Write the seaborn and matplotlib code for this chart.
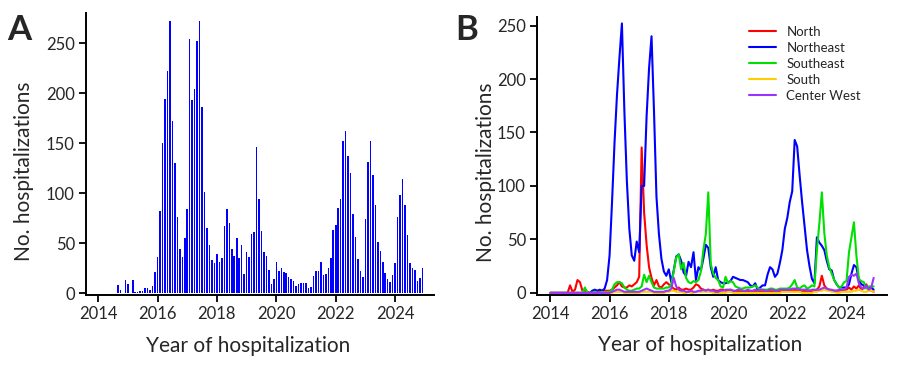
import numpy as np
import pandas as pd
import seaborn as sns
import matplotlib.pyplot as plt

# monthly series, Jan 2014 - Dec 2024
years = list(range(2014, 2025))
year_ticks = [2014, 2016, 2018, 2020, 2022, 2024]

# panel A: total hospitalizations per month
total = [
    0, 0, 0, 0, 0, 0, 0, 0, 8, 3, 0, 13,
    9, 0, 13, 1, 1, 2, 2, 5, 5, 3, 7, 21,
    36, 82, 150, 194, 222, 272, 172, 130, 76, 44, 36, 55,
    84, 254, 193, 204, 252, 272, 186, 101, 65, 48, 33, 30,
    39, 31, 35, 67, 84, 70, 44, 37, 55, 35, 48, 19,
    41, 36, 59, 61, 146, 94, 62, 41, 37, 23, 9, 14,
    31, 22, 25, 21, 20, 16, 14, 12, 7, 9, 10, 10,
    10, 5, 6, 17, 22, 22, 31, 18, 19, 25, 35, 63,
    68, 85, 94, 152, 162, 137, 120, 79, 56, 34, 22, 16,
    74, 131, 152, 118, 88, 51, 42, 31, 20, 14, 11, 18,
    30, 76, 98, 114, 88, 58, 30, 25, 23, 12, 15, 25,
]

# panel B: per region
north = [
    0, 0, 0, 0, 0, 0, 0, 0, 7, 1, 3, 12,
    10, 2, 2, 1, 0, 1, 0, 1, 1, 2, 2, 2,
    2, 3, 5, 7, 10, 6, 5, 5, 7, 6, 8, 10,
    15, 136, 75, 45, 24, 14, 7, 12, 6, 5, 8, 10,
    8, 6, 4, 3, 5, 3, 3, 4, 3, 3, 5, 8,
    7, 4, 3, 2, 3, 2, 3, 2, 2, 3, 3, 2,
    2, 3, 2, 1, 2, 1, 2, 1, 2, 1, 1, 2,
    1, 2, 1, 2, 1, 2, 1, 1, 2, 1, 2, 2,
    2, 3, 2, 3, 2, 2, 1, 2, 1, 2, 1, 2,
    3, 6, 16, 7, 4, 3, 2, 2, 2, 2, 2, 3,
    3, 5, 3, 6, 4, 7, 3, 5, 8, 3, 2, 1,
]
northeast = [
    0, 0, 0, 0, 0, 0, 0, 0, 0, 0, 0, 0,
    0, 0, 0, 0, 0, 2, 3, 2, 3, 2, 4, 12,
    35, 85, 140, 185, 220, 252, 170, 105, 60, 35, 30, 48,
    38, 100, 100, 165, 210, 240, 170, 90, 55, 32, 20, 16,
    22, 10, 21, 34, 36, 30, 19, 16, 29, 24, 38, 12,
    24, 21, 32, 45, 42, 24, 15, 24, 12, 10, 9, 9,
    10, 11, 15, 14, 13, 12, 12, 11, 10, 7, 6, 9,
    3, 5, 7, 7, 17, 24, 22, 15, 18, 28, 40, 60,
    70, 85, 95, 143, 137, 110, 85, 62, 40, 25, 13, 9,
    52, 47, 44, 40, 30, 22, 21, 12, 8, 5, 5, 5,
    5, 8, 18, 26, 24, 12, 8, 7, 5, 5, 5, 3,
]
southeast = [
    0, 0, 0, 0, 0, 0, 0, 0, 0, 0, 0, 0,
    0, 0, 5, 0, 0, 0, 1, 0, 0, 1, 0, 1,
    1, 3, 8, 10, 10, 9, 5, 3, 2, 2, 3, 4,
    4, 6, 17, 10, 16, 10, 5, 4, 4, 4, 4, 5,
    5, 8, 20, 33, 36, 22, 28, 14, 10, 9, 11, 10,
    12, 20, 40, 55, 94, 27, 18, 14, 12, 6, 5, 15,
    9, 11, 10, 6, 5, 4, 4, 5, 5, 5, 6, 7,
    5, 3, 3, 3, 3, 4, 4, 3, 3, 4, 4, 4,
    4, 5, 8, 12, 5, 4, 6, 7, 4, 5, 7, 6,
    40, 65, 94, 56, 35, 24, 18, 12, 8, 5, 6, 10,
    11, 38, 52, 66, 35, 13, 11, 10, 4, 6, 6, 6,
]
south = [
    0, 0, 0, 0, 0, 0, 0, 0, 0, 0, 0, 0,
    0, 0, 0, 0, 0, 0, 0, 0, 0, 0, 0, 0,
    0, 0, 1, 1, 1, 1, 0, 0, 0, 0, 0, 0,
    0, 1, 1, 1, 1, 1, 0, 0, 0, 0, 0, 1,
    1, 2, 2, 1, 1, 1, 0, 0, 1, 0, 0, 1,
    1, 1, 1, 1, 1, 1, 0, 0, 0, 0, 0, 0,
    1, 1, 0, 0, 0, 0, 0, 0, 0, 0, 0, 0,
    0, 0, 0, 0, 0, 0, 0, 0, 0, 0, 1, 1,
    1, 1, 1, 1, 1, 1, 0, 0, 0, 0, 0, 1,
    1, 2, 2, 3, 2, 2, 1, 1, 0, 0, 1, 1,
    1, 1, 1, 2, 2, 3, 2, 1, 1, 2, 2, 1,
]
center_west = [
    0, 0, 0, 0, 0, 0, 0, 0, 0, 0, 0, 0,
    0, 0, 0, 0, 0, 0, 0, 0, 0, 0, 0, 0,
    0, 1, 2, 3, 3, 2, 1, 1, 1, 1, 1, 1,
    1, 2, 3, 4, 3, 2, 1, 1, 1, 1, 1, 2,
    2, 4, 14, 6, 3, 2, 2, 1, 1, 2, 1, 1,
    2, 2, 3, 2, 3, 2, 2, 1, 1, 2, 2, 3,
    3, 3, 2, 2, 3, 3, 2, 2, 3, 2, 2, 3,
    2, 3, 3, 2, 2, 3, 3, 2, 2, 3, 3, 3,
    3, 3, 4, 4, 4, 3, 3, 3, 3, 2, 3, 3,
    3, 3, 4, 5, 4, 3, 3, 2, 2, 3, 3, 3,
    5, 15, 17, 16, 18, 9, 5, 4, 7, 3, 5, 14,
]

regions = ["North", "Northeast", "Southeast", "South", "Center West"]
region_colors = ["#ff0000", "#0000ff", "#00e000", "#ffcc00", "#9933ff"]

# months counted from Jan 2014
month = np.arange(len(years) * 12)
tick_pos = [(y - 2014) * 12 for y in year_ticks]

df_a = pd.DataFrame({"month": month, "n": total})
df_b = pd.DataFrame({"month": np.tile(month, 5),
                     "n": north + northeast + southeast + south + center_west,
                     "region": np.repeat(regions, len(month))})

sns.set_theme(style="ticks")
plt.rcParams["font.family"] = ["Lato", "DejaVu Sans"]

fig = plt.figure(figsize=(9, 3.66), dpi=100)
axA = fig.add_axes([86 / 900, 71 / 366, 348 / 900, 282 / 366])
axB = fig.add_axes([537 / 900, 71 / 366, 350 / 900, 278 / 366])

# Panel A
sns.barplot(data=df_a, x="month", y="n", native_scale=True, orient="x",
            color="#0000ff", saturation=1, width=0.62, linewidth=0,
            errorbar=None, ax=axA)
axA.set_xlim(-4.9, 135.7)
axA.set_ylim(-2, 280)

# Panel B
sns.lineplot(data=df_b, x="month", y="n", hue="region", hue_order=regions,
             palette=dict(zip(regions, region_colors)), linewidth=1.5, ax=axB)
axB.set_xlim(-5.4, 136.4)
axB.set_ylim(-2, 258)
h, l = axB.get_legend_handles_labels()
axB.legend(h, l, loc="upper left", bbox_to_anchor=(0.571, 1.01), frameon=False,
           fontsize=9.5, handlelength=2.1, handletextpad=0.75, labelspacing=0.3)

for ax in (axA, axB):
    ax.set_xticks(tick_pos)
    ax.set_xticklabels([str(y) for y in year_ticks])
    ax.set_yticks([0, 50, 100, 150, 200, 250])
    ax.tick_params(labelsize=12, length=5, width=1.3, color="black", pad=3)
    for s in ("left", "bottom"):
        ax.spines[s].set_linewidth(1.4)
        ax.spines[s].set_color("black")
    sns.despine(ax=ax)
    ax.set_xlabel("Year of hospitalization", fontsize=15)
    ax.set_ylabel("No. hospitalizations", fontsize=15)
    ax.xaxis.set_label_coords(0.466, -0.145)

axA.yaxis.set_label_coords(-0.15, 0.44)
axB.yaxis.set_label_coords(-0.117, 0.44)

fig.text(7 / 900, 1 - 40 / 366, "A", fontsize=25, fontweight="bold")
fig.text(455 / 900, 1 - 40 / 366, "B", fontsize=25, fontweight="bold")

fig.savefig("out.png", dpi=100)
